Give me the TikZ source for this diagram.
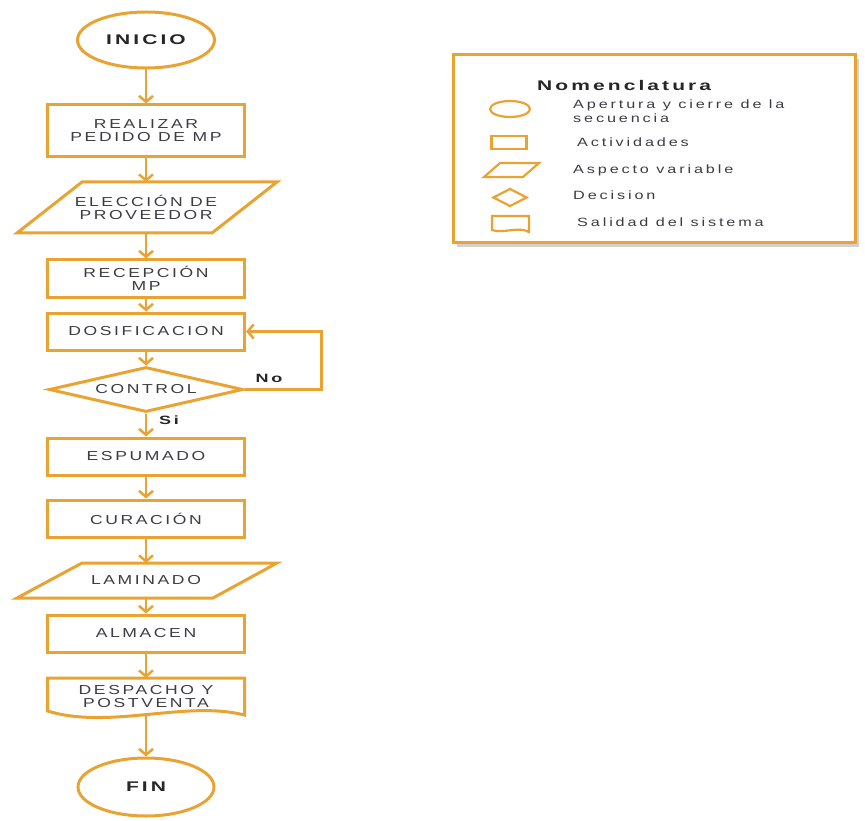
\documentclass[tikz,border=0pt]{standalone}
\usepackage{fontspec}
\setmainfont{Liberation Sans}
% wide, tracked sans for the box labels and the legend
\newfontfamily\boxfont[FakeStretch=1.35, LetterSpace=20]{Liberation Sans}
\newfontfamily\headfont[FakeStretch=1.5, LetterSpace=22]{Liberation Sans Bold}
\newfontfamily\legfont[FakeStretch=1.35, LetterSpace=24]{Liberation Sans}
\usetikzlibrary{shapes.geometric,arrows.meta,shadows}
\definecolor{flow}{RGB}{233,163,50}
\definecolor{ink}{RGB}{60,60,66}

\begin{document}
\begin{tikzpicture}[x=1pt,y=-1pt,
  base/.style={draw=flow, line width=3pt, fill=white, text=ink, align=center,
    inner sep=0pt, font=\boxfont\fontsize{13}{13}\selectfont},
  term/.style={base, ellipse, minimum width=137pt, minimum height=56pt,
    text=black!85, font=\headfont\fontsize{14}{15}\selectfont},
  act/.style={base, rectangle, minimum width=197pt, minimum height=37pt},
  decis/.style={base, diamond, aspect=4, minimum width=194pt, minimum height=45pt},
  txt/.style={inner sep=0pt, outer sep=0pt, align=center, text=ink,
    font=\boxfont\fontsize{13}{13}\selectfont},
  outline/.style={draw=flow, line width=3pt, line join=miter, fill=white},
  flowarrow/.style={draw=flow, line width=2.5pt,
    -{Straight Barb[length=6pt,width=14pt]}},
  branch/.style={inner sep=0pt, text=black!85,
    font=\headfont\fontsize{12}{13}\selectfont},
  icon/.style={draw=flow, line width=2.2pt, fill=white, inner sep=0pt},
  legtext/.style={anchor=west, inner sep=0pt, align=left, text=ink,
    font=\legfont\fontsize{12}{14}\selectfont},
]
\useasboundingbox (0,0) rectangle (865,821);

% ---------- main flow ----------
\node[term] (inicio) at (146,40) {INICIO};
\node[act, minimum height=52pt] (pedido) at (146,131) {REALIZAR\\PEDIDO DE MP};

\draw[outline] (82,182) -- (277,182) -- (212,233) -- (17,233) -- cycle;
\node[txt, minimum width=150pt, minimum height=51pt] (eleccion) at (146,207.5)
  {ELECCIÓN DE\\PROVEEDOR};

\node[act] (recepcion) at (146,278.5) {RECEPCIÓN\\MP};
\node[act] (dosif) at (146,331.5) {DOSIFICACION};
\node[decis] (control) at (146,389.5) {CONTROL};
\node[act] (espumado) at (146,456.5) {ESPUMADO};
\node[act] (curacion) at (146,518.5) {CURACIÓN};

\draw[outline] (82,563) -- (277,563) -- (213,598) -- (17,598) -- cycle;
\node[txt, minimum width=150pt, minimum height=35pt] (laminado) at (146,580.5)
  {LAMINADO};

\node[act] (almacen) at (146,633.5) {ALMACEN};

% document shape with a wavy lower edge
\draw[outline] (47.5,678) -- (244.5,678) -- (244.5,715)
  .. controls (185,700) and (110,730) .. (47.5,711) -- cycle;
\node[txt, minimum width=180pt, minimum height=38pt] (despacho) at (146,697)
  {DESPACHO Y\\POSTVENTA};

\node[term, minimum width=136pt, minimum height=58pt] (fin) at (146,787) {FIN};

% ---------- connectors ----------
\draw[flowarrow] (inicio.south) -- (pedido.north);
\draw[flowarrow] (pedido.south) -- (eleccion.north);
\draw[flowarrow] (eleccion.south) -- (recepcion.north);
\draw[flowarrow] (recepcion.south) -- (dosif.north);
\draw[flowarrow] (dosif.south) -- (control.north);
\draw[flowarrow] (control.south) -- (espumado.north);
\draw[flowarrow] (espumado.south) -- (curacion.north);
\draw[flowarrow] (curacion.south) -- (laminado.north);
\draw[flowarrow] (laminado.south) -- (almacen.north);
\draw[flowarrow] (almacen.south) -- (despacho.north);
\draw[flowarrow] (despacho.south) -- (fin.north);
\draw[flowarrow] (control.east) -- ++(77,0) |- (dosif.east);

\node[branch] (no) at (269,378) {No};
\node[branch] (si) at (169,420) {Si};

% ---------- legend ----------
\node[draw=flow, line width=3pt, fill=white, inner sep=0pt,
  minimum width=402pt, minimum height=188pt,
  drop shadow={shadow xshift=4pt, shadow yshift=-4pt, fill=black!30, opacity=0.6}]
  (legend) at (654,149) {};

\node[anchor=west, inner sep=0pt, text=black!85,
  font=\headfont\fontsize{14}{16}\selectfont] (nomen) at (537,85) {Nomenclatura};

\node[icon, ellipse, minimum width=40pt, minimum height=16pt] (icterm) at (510,109) {};
\node[legtext] (ltterm) at (573,111) {Apertura y cierre de la\\secuencia};

\node[icon, rectangle, minimum width=35pt, minimum height=13pt] (icact) at (509,142.5) {};
\node[legtext] (ltact) at (577,142) {Actividades};

\draw[icon, line join=miter] (500,163) -- (539,163) -- (523,177) -- (484,177) -- cycle;
\node[legtext] (ltvar) at (573,170) {Aspecto variable};

\node[icon, diamond, aspect=2, minimum width=34pt, minimum height=18pt] (icdec) at (510,197.5) {};
\node[legtext] (ltdec) at (573,195) {Decision};

\draw[icon, line join=miter] (492,216) -- (529,216) -- (529,232)
  .. controls (518,226) and (503,234) .. (492,230) -- cycle;
\node[legtext] (ltout) at (577,222) {Salidad del sistema};
\end{tikzpicture}
\end{document}
